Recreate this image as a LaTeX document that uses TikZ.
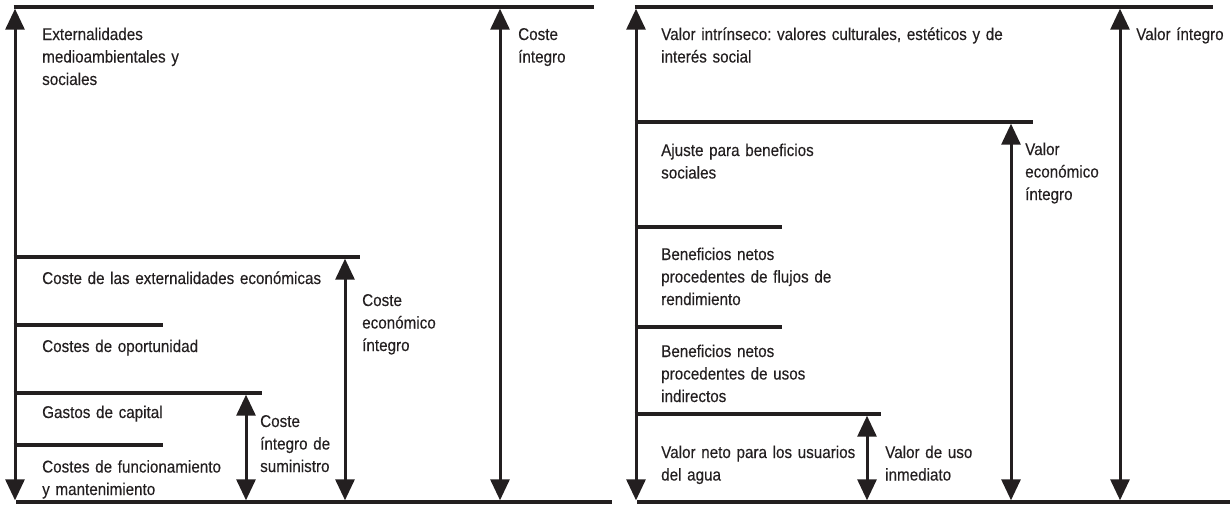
\documentclass[tikz,border=0pt]{standalone}
\usepackage{fontspec}
\setmainfont{Liberation Sans}[FakeStretch=0.895,FakeBold=0.25]
\usetikzlibrary{arrows.meta}
\definecolor{ink}{RGB}{35,31,32}
\frenchspacing
\begin{document}
\begin{tikzpicture}[x=1pt,y=-1pt,
  bar/.style={line width=3.4pt,draw=ink},
  dim/.style={line width=3pt,draw=ink,fill=ink,{Triangle[width=19pt,length=21pt]}-{Triangle[width=19pt,length=21pt]}},
  lbl/.style={anchor=base west,inner sep=0pt,align=left,text width=380pt,
              font=\fontsize{17}{22.5}\selectfont,text=ink}]
\useasboundingbox (0,0) rectangle (1230,504);

% ---------- left panel: bars ----------
\coordinate (L0a) at (13.5,7);    \coordinate (L0b) at (594,7);
\coordinate (L1a) at (13.5,257);  \coordinate (L1b) at (360,257);
\coordinate (L2a) at (13.5,325);  \coordinate (L2b) at (163,325);
\coordinate (L3a) at (13.5,393);  \coordinate (L3b) at (262,393);
\coordinate (L4a) at (13.5,445);  \coordinate (L4b) at (163,445);
\coordinate (L5a) at (16,502);    \coordinate (L5b) at (612,502);
\draw[bar] (L0a) -- (L0b);
\draw[bar] (L1a) -- (L1b);
\draw[bar] (L2a) -- (L2b);
\draw[bar] (L3a) -- (L3b);
\draw[bar] (L4a) -- (L4b);
\draw[bar] (L5a) -- (L5b);

% ---------- left panel: arrows ----------
\coordinate (A1t) at (15,8.7);    \coordinate (A1b) at (15,500.3);
\coordinate (A2t) at (246,394.7); \coordinate (A2b) at (246,500.3);
\coordinate (A3t) at (345,258.7); \coordinate (A3b) at (345,500.3);
\coordinate (A4t) at (500,8.7);   \coordinate (A4b) at (500,500.3);
\draw[dim] (A1t) -- (A1b);
\draw[dim] (A2t) -- (A2b);
\draw[dim] (A3t) -- (A3b);
\draw[dim] (A4t) -- (A4b);

% ---------- left panel: labels ----------
\node[lbl] (t1) at (42,40) {Externalidades\\medioambientales y\\sociales};
\node[lbl] (t2) at (42,284) {Coste de las externalidades económicas};
\node[lbl] (t3) at (42,352) {Costes de oportunidad};
\node[lbl] (t4) at (42,418) {Gastos de capital};
\node[lbl] (t5) at (42,472.5) {Costes de funcionamiento\\y mantenimiento};
\node[lbl] (t6) at (260,427) {Coste\\íntegro de\\suministro};
\node[lbl] (t7) at (362,306) {Coste\\económico\\íntegro};
\node[lbl] (t8) at (518,40) {Coste\\íntegro};

% ---------- right panel: bars ----------
\coordinate (R0a) at (634.5,7);   \coordinate (R0b) at (1213,7);
\coordinate (R1a) at (634.5,122); \coordinate (R1b) at (1033,122);
\coordinate (R2a) at (634.5,227); \coordinate (R2b) at (782,227);
\coordinate (R3a) at (634.5,327); \coordinate (R3b) at (782,327);
\coordinate (R4a) at (634.5,414); \coordinate (R4b) at (881,414);
\coordinate (R5a) at (637,502);   \coordinate (R5b) at (1230,502);
\draw[bar] (R0a) -- (R0b);
\draw[bar] (R1a) -- (R1b);
\draw[bar] (R2a) -- (R2b);
\draw[bar] (R3a) -- (R3b);
\draw[bar] (R4a) -- (R4b);
\draw[bar] (R5a) -- (R5b);

% ---------- right panel: arrows ----------
\coordinate (B1t) at (636,8.7);    \coordinate (B1b) at (636,500.3);
\coordinate (B2t) at (867,415.7);  \coordinate (B2b) at (867,500.3);
\coordinate (B3t) at (1011,123.7); \coordinate (B3b) at (1011,500.3);
\coordinate (B4t) at (1120,8.7);   \coordinate (B4b) at (1120,500.3);
\draw[dim] (B1t) -- (B1b);
\draw[dim] (B2t) -- (B2b);
\draw[dim] (B3t) -- (B3b);
\draw[dim] (B4t) -- (B4b);

% ---------- right panel: labels ----------
\node[lbl] (u1) at (661,40) {Valor intrínseco: valores culturales, estéticos y de\\interés social};
\node[lbl] (u2) at (661,156) {Ajuste para beneficios\\sociales};
\node[lbl] (u3) at (661,260) {Beneficios netos\\procedentes de flujos de\\rendimiento};
\node[lbl] (u4) at (661,357) {Beneficios netos\\procedentes de usos\\indirectos};
\node[lbl] (u5) at (661,458) {Valor neto para los usuarios\\del agua};
\node[lbl] (u6) at (885,458) {Valor de uso\\inmediato};
\node[lbl] (u7) at (1025,155) {Valor\\económico\\íntegro};
\node[lbl] (u8) at (1136,40) {Valor íntegro};
\end{tikzpicture}
\end{document}
